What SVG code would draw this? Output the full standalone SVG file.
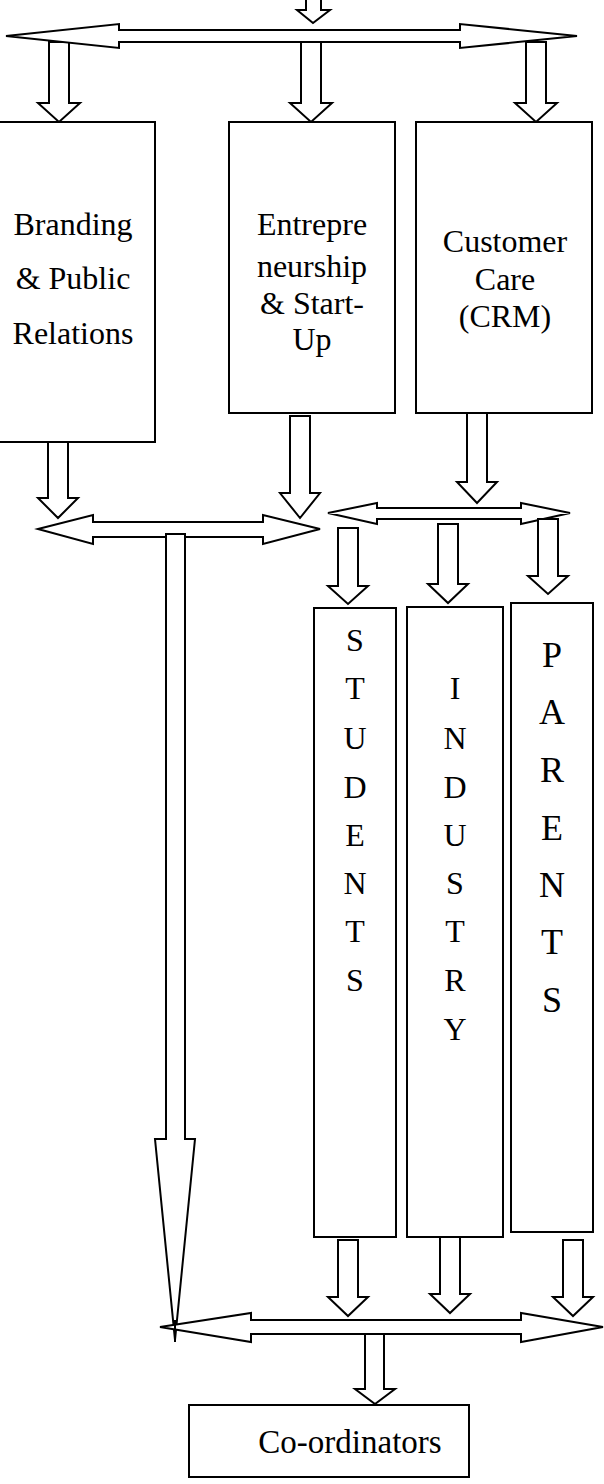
<svg xmlns="http://www.w3.org/2000/svg" width="604" height="1484" viewBox="0 0 604 1484">
<style>
.a{fill:#fff;stroke:#000;stroke-width:2;stroke-linejoin:miter}
.b{fill:#fff;stroke:#000;stroke-width:2}
.t{font-family:"Liberation Serif","Times New Roman",serif;font-size:32px;fill:#000;text-anchor:middle}
.p{font-size:36px}
</style>
<rect width="604" height="1484" fill="#fff"/>
<g id="connectors">
<polygon class="a" points="306,-2 321,-2 321,10 330,10 313,23 297,10 306,10"/>
<polygon class="a" points="49,42 69,42 69,103 80,103 59,122 38,103 49,103"/>
<polygon class="a" points="301,42 321,42 321,103 332,103 311,122 290,103 301,103"/>
<polygon class="a" points="526,42 546,42 546,103 557,103 536,122 515,103 526,103"/>
<polygon class="a" points="6,36 119,24 119,30 460,30 460,24 577,36 460,48 460,42 119,42 119,48"/>
<polygon class="a" points="48,442 68,442 68,498 78,498 58,518 38,498 48,498"/>
<polygon class="a" points="290,416 310,416 310,493 320,493 300,518 280,493 290,493"/>
<polygon class="a" points="467,413 487,413 487,482 497,482 477,503 457,482 467,482"/>
<polygon class="a" points="38,529 93,515 93,522 263,522 263,515 320,529 263,544 263,537 93,537 93,544"/>
<polygon class="a" points="166,534 185,534 185,1139 195,1139 175,1340 155,1139 166,1139"/>
<polygon class="a" points="328,513 377,503 377,508 521,508 521,503 570,513 521,524 521,519 377,519 377,524"/>
<polygon class="a" points="338,528 358,528 358,586 368,586 348,604 328,586 338,586"/>
<polygon class="a" points="438,524 458,524 458,584 468,584 448,603 428,584 438,584"/>
<polygon class="a" points="538,519 558,519 558,576 568,576 548,594 528,576 538,576"/>
<polygon class="a" points="338,1240 358,1240 358,1297 368,1297 348,1316 328,1297 338,1297"/>
<polygon class="a" points="440,1237 460,1237 460,1294 470,1294 450,1313 430,1294 440,1294"/>
<polygon class="a" points="563,1240 583,1240 583,1297 593,1297 573,1316 553,1297 563,1297"/>
<polygon class="a" points="160,1327 251,1313 251,1320 521,1320 521,1313 603,1327 521,1342 521,1334 251,1334 251,1342"/>
<line x1="175" y1="1320" x2="175" y2="1342" stroke="#000" stroke-width="2"/>
<polygon class="a" points="365,1334 384,1334 384,1389 395,1389 375,1404 355,1389 365,1389"/>
</g>
<g id="branding">
<rect class="b" x="-2" y="122" width="157" height="320"/>
<text class="t" x="73" y="235">Branding</text>
<text class="t" x="73" y="289">&amp; Public</text>
<text class="t" x="73" y="344">Relations</text>
</g>
<g id="entrepreneurship">
<rect class="b" x="229" y="122" width="166" height="291"/>
<text class="t" x="312" y="235">Entrepre</text>
<text class="t" x="312" y="277">neurship</text>
<text class="t" x="312" y="314">&amp; Start-</text>
<text class="t" x="312" y="350">Up</text>
</g>
<g id="customer">
<rect class="b" x="416" y="122" width="176" height="291"/>
<text class="t" x="505" y="252">Customer</text>
<text class="t" x="505" y="290">Care</text>
<text class="t" x="505" y="327">(CRM)</text>
</g>
<g id="students">
<rect class="b" x="314" y="608" width="82" height="629"/>
<text class="t" x="355" y="651">S</text>
<text class="t" x="355" y="699">T</text>
<text class="t" x="355" y="749">U</text>
<text class="t" x="355" y="798">D</text>
<text class="t" x="355" y="846">E</text>
<text class="t" x="355" y="894">N</text>
<text class="t" x="355" y="942">T</text>
<text class="t" x="355" y="991">S</text>
</g>
<g id="industry">
<rect class="b" x="407" y="607" width="96" height="630"/>
<text class="t" x="455" y="699">I</text>
<text class="t" x="455" y="749">N</text>
<text class="t" x="455" y="798">D</text>
<text class="t" x="455" y="846">U</text>
<text class="t" x="455" y="894">S</text>
<text class="t" x="455" y="942">T</text>
<text class="t" x="455" y="991">R</text>
<text class="t" x="455" y="1040">Y</text>
</g>
<g id="parents">
<rect class="b" x="511" y="603" width="82" height="629"/>
<text class="t p" x="552" y="667">P</text>
<text class="t p" x="552" y="724">A</text>
<text class="t p" x="552" y="782">R</text>
<text class="t p" x="552" y="840">E</text>
<text class="t p" x="552" y="897">N</text>
<text class="t p" x="552" y="954">T</text>
<text class="t p" x="552" y="1012">S</text>
</g>
<g id="coordinators">
<rect class="b" x="189" y="1405" width="280" height="72"/>
<text class="t" x="350" y="1453" style="font-size:33px">Co-ordinators</text>
</g>
</svg>
